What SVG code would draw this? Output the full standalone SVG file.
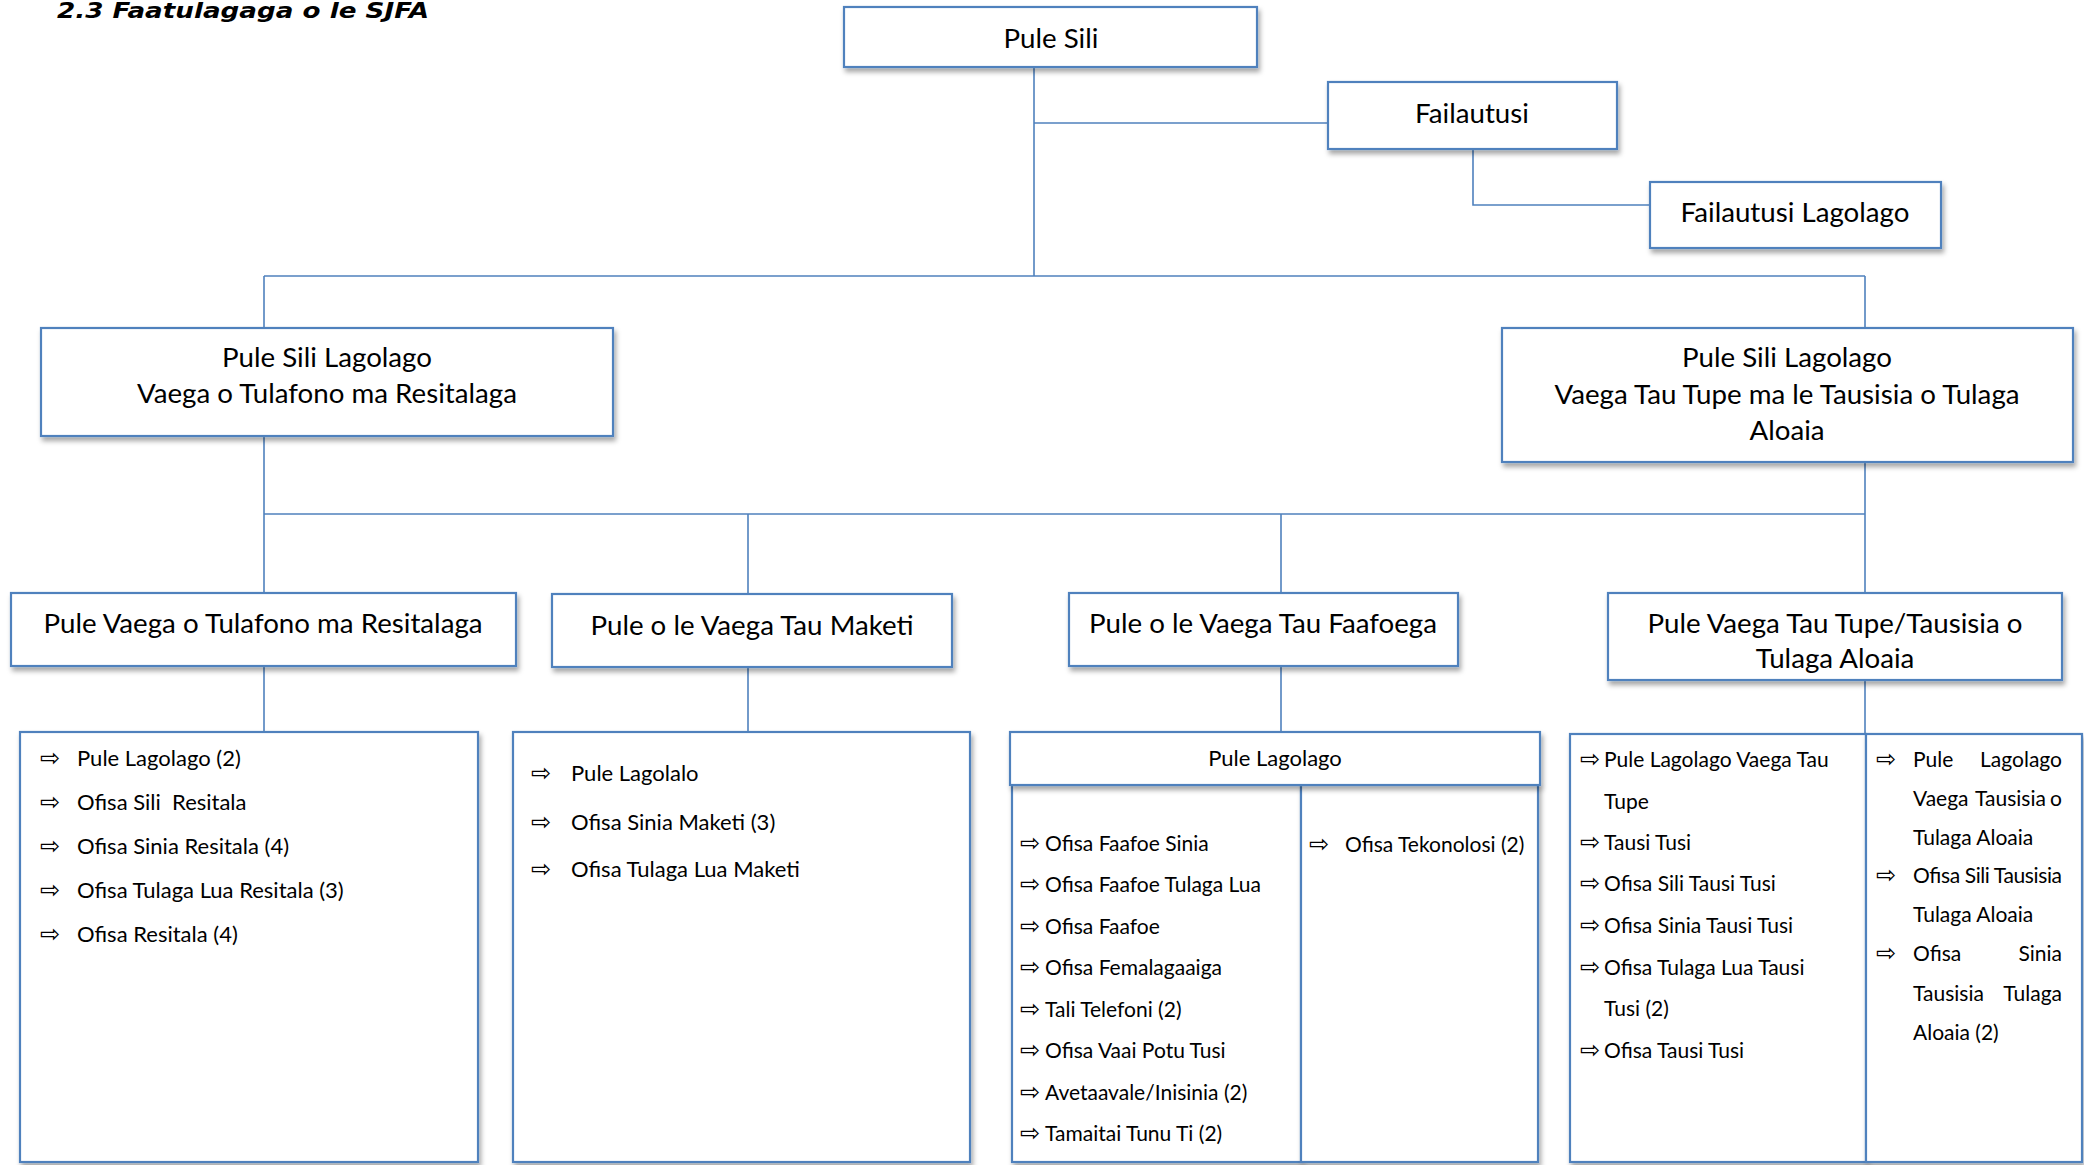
<svg xmlns="http://www.w3.org/2000/svg" width="2084" height="1165" viewBox="0 0 2084 1165">
<defs>
<filter id="sh" x="-5%" y="-5%" width="115%" height="130%">
<feDropShadow dx="2" dy="4" stdDeviation="2.5" flood-color="#000" flood-opacity="0.35"/>
</filter>
<style>
.box{fill:#fff;stroke:#4F81BD;stroke-width:2.2}
.conn line,.conn polyline{fill:none;stroke:#4F81BD;stroke-width:1.6}
text{font-family:Lato,"Open Sans",sans-serif;fill:#000}
.h{font-size:27.7px;text-anchor:middle}
.l{font-size:22px}
.s{font-size:21px}
.ar{font-family:"DejaVu Sans",sans-serif;font-size:24px}
.e{text-anchor:end}
.title{font-family:"DejaVu Sans",sans-serif;font-weight:bold;font-style:italic;font-size:21px}
</style>
</defs>
<rect width="2084" height="1165" fill="#fff"/>
<text class="title" x="57" y="18" textLength="372" lengthAdjust="spacingAndGlyphs">2.3 Faatulagaga o le SJFA</text>

<g class="conn" id="connectors">
<line x1="1034" y1="67" x2="1034" y2="276"/>
<polyline points="1034,123 1328,123"/>
<polyline points="1473,149 1473,205 1650,205"/>
<line x1="264" y1="276" x2="1865" y2="276"/>
<line x1="264" y1="276" x2="264" y2="328"/>
<line x1="1865" y1="276" x2="1865" y2="328"/>
<line x1="264" y1="436" x2="264" y2="593"/>
<line x1="1865" y1="462" x2="1865" y2="593"/>
<line x1="264" y1="514" x2="1865" y2="514"/>
<line x1="748" y1="514" x2="748" y2="594"/>
<line x1="1281" y1="514" x2="1281" y2="593"/>
<line x1="264" y1="666" x2="264" y2="732"/>
<line x1="748" y1="667" x2="748" y2="732"/>
<line x1="1281" y1="666" x2="1281" y2="732"/>
<line x1="1865" y1="680" x2="1865" y2="734"/>
</g>

<g id="pule-sili">
<rect class="box" x="844" y="7" width="413" height="60" filter="url(#sh)"/>
<text class="h" x="1051" y="48">Pule Sili</text>
</g>
<g id="failautusi">
<rect class="box" x="1328" y="82" width="289" height="67" filter="url(#sh)"/>
<text class="h" x="1472" y="123">Failautusi</text>
</g>
<g id="failautusi-lagolago">
<rect class="box" x="1650" y="182" width="291" height="66" filter="url(#sh)"/>
<text class="h" x="1795" y="222">Failautusi Lagolago</text>
</g>

<g id="psl-tulafono">
<rect class="box" x="41" y="328" width="572" height="108" filter="url(#sh)"/>
<text class="h" x="327" y="367">Pule Sili Lagolago</text>
<text class="h" x="327" y="403">Vaega o Tulafono ma Resitalaga</text>
</g>
<g id="psl-tupe">
<rect class="box" x="1502" y="328" width="571" height="134" filter="url(#sh)"/>
<text class="h" x="1787" y="367">Pule Sili Lagolago</text>
<text class="h" x="1787" y="404">Vaega Tau Tupe ma le Tausisia o Tulaga</text>
<text class="h" x="1787" y="440">Aloaia</text>
</g>

<g id="pv-tulafono">
<rect class="box" x="11" y="593" width="505" height="73" filter="url(#sh)"/>
<text class="h" x="263" y="633">Pule Vaega o Tulafono ma Resitalaga</text>
</g>
<g id="pv-maketi">
<rect class="box" x="552" y="594" width="400" height="73" filter="url(#sh)"/>
<text class="h" x="752" y="635">Pule o le Vaega Tau Maketi</text>
</g>
<g id="pv-faafoega">
<rect class="box" x="1069" y="593" width="389" height="73" filter="url(#sh)"/>
<text class="h" x="1263" y="633">Pule o le Vaega Tau Faafoega</text>
</g>
<g id="pv-tupe">
<rect class="box" x="1608" y="593" width="454" height="87" filter="url(#sh)"/>
<text class="h" x="1835" y="633">Pule Vaega Tau Tupe/Tausisia o</text>
<text class="h" x="1835" y="668">Tulaga Aloaia</text>
</g>

<g id="list-tulafono">
<rect class="box" x="20" y="732" width="458" height="430" filter="url(#sh)"/>
<text class="ar" x="40" y="766">⇨</text><text class="l" x="77" y="766">Pule Lagolago (2)</text>
<text class="ar" x="40" y="810">⇨</text><text class="l" x="77" y="810" xml:space="preserve">Ofisa Sili  Resitala</text>
<text class="ar" x="40" y="854">⇨</text><text class="l" x="77" y="854">Ofisa Sinia Resitala (4)</text>
<text class="ar" x="40" y="898">⇨</text><text class="l" x="77" y="898">Ofisa Tulaga Lua Resitala (3)</text>
<text class="ar" x="40" y="942">⇨</text><text class="l" x="77" y="942">Ofisa Resitala (4)</text>
</g>

<g id="list-maketi">
<rect class="box" x="513" y="732" width="457" height="430" filter="url(#sh)"/>
<text class="ar" x="531" y="781">⇨</text><text class="l" x="571" y="781">Pule Lagolalo</text>
<text class="ar" x="531" y="830">⇨</text><text class="l" x="571" y="830">Ofisa Sinia Maketi (3)</text>
<text class="ar" x="531" y="877">⇨</text><text class="l" x="571" y="877">Ofisa Tulaga Lua Maketi</text>
</g>

<g id="list-faafoega">
<rect class="box" x="1012" y="785" width="289" height="377" filter="url(#sh)"/>
<rect class="box" x="1301" y="785" width="237" height="377" filter="url(#sh)"/>
<rect class="box" x="1010" y="732" width="530" height="53" filter="url(#sh)"/>
<text class="l" x="1275" y="766" text-anchor="middle">Pule Lagolago</text>
<text class="ar" x="1020" y="851">⇨</text><text class="s" x="1045" y="851">Ofisa Faafoe Sinia</text>
<text class="ar" x="1020" y="892">⇨</text><text class="s" x="1045" y="892">Ofisa Faafoe Tulaga Lua</text>
<text class="ar" x="1020" y="934">⇨</text><text class="s" x="1045" y="934">Ofisa Faafoe</text>
<text class="ar" x="1020" y="975">⇨</text><text class="s" x="1045" y="975">Ofisa Femalagaaiga</text>
<text class="ar" x="1020" y="1017">⇨</text><text class="s" x="1045" y="1017">Tali Telefoni (2)</text>
<text class="ar" x="1020" y="1058">⇨</text><text class="s" x="1045" y="1058">Ofisa Vaai Potu Tusi</text>
<text class="ar" x="1020" y="1100">⇨</text><text class="s" x="1045" y="1100">Avetaavale/Inisinia (2)</text>
<text class="ar" x="1020" y="1141">⇨</text><text class="s" x="1045" y="1141">Tamaitai Tunu Ti (2)</text>
<text class="ar" x="1309" y="852">⇨</text><text class="s" x="1345" y="852">Ofisa Tekonolosi (2)</text>
</g>

<g id="list-tupe">
<rect class="box" x="1570" y="734" width="296" height="428" filter="url(#sh)"/>
<rect class="box" x="1866" y="734" width="216" height="428" filter="url(#sh)"/>
<text class="ar" x="1580" y="767">⇨</text><text class="s" x="1604" y="767">Pule Lagolago Vaega Tau</text>
<text class="s" x="1604" y="809">Tupe</text>
<text class="ar" x="1580" y="850">⇨</text><text class="s" x="1604" y="850">Tausi Tusi</text>
<text class="ar" x="1580" y="891">⇨</text><text class="s" x="1604" y="891">Ofisa Sili Tausi Tusi</text>
<text class="ar" x="1580" y="933">⇨</text><text class="s" x="1604" y="933">Ofisa Sinia Tausi Tusi</text>
<text class="ar" x="1580" y="975">⇨</text><text class="s" x="1604" y="975">Ofisa Tulaga Lua Tausi</text>
<text class="s" x="1604" y="1016">Tusi (2)</text>
<text class="ar" x="1580" y="1058">⇨</text><text class="s" x="1604" y="1058">Ofisa Tausi Tusi</text>

<text class="ar" x="1876" y="767">⇨</text><text class="s" x="1913" y="767">Pule</text><text class="s e" x="2062" y="767">Lagolago</text>
<text class="s" x="1913" y="806">Vaega</text><text class="s" x="1975" y="806">Tausisia</text><text class="s e" x="2062" y="806">o</text>
<text class="s" x="1913" y="845">Tulaga Aloaia</text>
<text class="ar" x="1876" y="883">⇨</text><text class="s" x="1913" y="883" textLength="149" lengthAdjust="spacing">Ofisa Sili Tausisia</text>
<text class="s" x="1913" y="922">Tulaga Aloaia</text>
<text class="ar" x="1876" y="961">⇨</text><text class="s" x="1913" y="961">Ofisa</text><text class="s e" x="2062" y="961">Sinia</text>
<text class="s" x="1913" y="1001">Tausisia</text><text class="s e" x="2062" y="1001">Tulaga</text>
<text class="s" x="1913" y="1040">Aloaia (2)</text>
</g>
</svg>
